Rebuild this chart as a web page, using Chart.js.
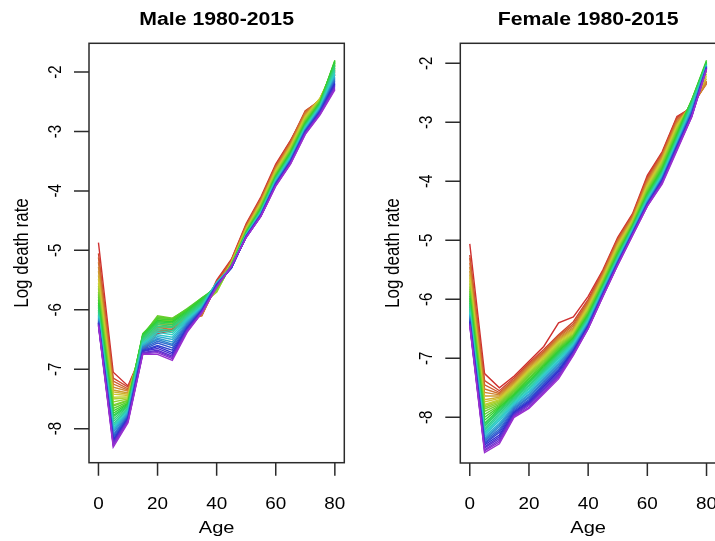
<!DOCTYPE html>
<html>
<head>
<meta charset="utf-8">
<script src="https://cdn.jsdelivr.net/npm/chart.js@4.4.0/dist/chart.umd.min.js"></script>
<style>
  html, body { margin: 0; padding: 0; background: #fff; overflow: hidden; }
  #wrap { position: relative; width: 715px; height: 541px; overflow: hidden; }
  canvas { position: absolute; top: 0; }
  #male { left: 0; }
  #female { left: 360px; }
</style>
</head>
<body>
<div id="wrap">
  <canvas id="male" width="360" height="541"></canvas>
  <canvas id="female" width="360" height="541"></canvas>
</div>
<script>
// ages and years
const ages = [0, 5, 10, 15, 20, 25, 30, 35, 40, 45, 50, 55, 60, 65, 70, 75, 80];
const years = [];
for (let y = 1980; y <= 2015; y++) years.push(y);

const xTicks = [0, 20, 40, 60, 80];
const yTicks = [-2, -3, -4, -5, -6, -7, -8];

// male log death rate, one array per age, values 1980..2015
const m00 = [-4.87,-5.05,-5.12,-5.2,-5.28,-5.35,-5.42,-5.48,-5.55,-5.6,-5.64,-5.7,-5.74,-5.78,-5.83,-5.88,-5.92,-5.96,-6.0,-6.03,-6.06,-6.09,-6.1,-6.12,-6.14,-6.16,-6.18,-6.2,-6.2,-6.22,-6.23,-6.22,-6.24,-6.25,-6.26,-6.27];
const m05 = [-7.05,-7.15,-7.2,-7.25,-7.3,-7.35,-7.38,-7.42,-7.47,-7.5,-7.55,-7.6,-7.62,-7.66,-7.7,-7.74,-7.78,-7.8,-7.84,-7.88,-7.92,-7.95,-7.98,-8.0,-8.03,-8.06,-8.1,-8.12,-8.15,-8.18,-8.2,-8.22,-8.24,-8.26,-8.28,-8.31];
const m10 = [-7.28,-7.3,-7.33,-7.35,-7.37,-7.4,-7.42,-7.44,-7.46,-7.48,-7.5,-7.52,-7.53,-7.55,-7.57,-7.58,-7.6,-7.62,-7.63,-7.65,-7.67,-7.68,-7.7,-7.72,-7.73,-7.75,-7.77,-7.78,-7.8,-7.81,-7.83,-7.84,-7.85,-7.87,-7.88,-7.9];
const m15 = [-6.7,-6.72,-6.68,-6.66,-6.63,-6.6,-6.58,-6.55,-6.52,-6.5,-6.47,-6.45,-6.43,-6.42,-6.4,-6.42,-6.44,-6.45,-6.48,-6.5,-6.52,-6.55,-6.57,-6.58,-6.6,-6.62,-6.63,-6.65,-6.67,-6.68,-6.7,-6.7,-6.72,-6.73,-6.74,-6.75];
const m20 = [-6.4,-6.38,-6.36,-6.33,-6.3,-6.28,-6.25,-6.22,-6.2,-6.18,-6.15,-6.12,-6.1,-6.12,-6.15,-6.18,-6.2,-6.22,-6.25,-6.28,-6.32,-6.35,-6.38,-6.42,-6.45,-6.48,-6.5,-6.53,-6.56,-6.6,-6.62,-6.65,-6.68,-6.7,-6.72,-6.75];
const m25 = [-6.35,-6.33,-6.32,-6.3,-6.28,-6.27,-6.25,-6.23,-6.2,-6.18,-6.16,-6.15,-6.14,-6.15,-6.17,-6.2,-6.22,-6.25,-6.28,-6.3,-6.35,-6.38,-6.42,-6.46,-6.5,-6.54,-6.58,-6.6,-6.64,-6.68,-6.72,-6.75,-6.78,-6.8,-6.82,-6.85];
const m30 = [-6.2,-6.2,-6.18,-6.16,-6.14,-6.12,-6.1,-6.08,-6.06,-6.04,-6.02,-6.0,-5.99,-5.98,-6.0,-6.02,-6.04,-6.06,-6.08,-6.1,-6.12,-6.14,-6.16,-6.18,-6.2,-6.22,-6.24,-6.26,-6.28,-6.3,-6.31,-6.32,-6.34,-6.35,-6.36,-6.38];
const m35 = [-6.05,-6.08,-6.1,-6.1,-6.08,-6.05,-6.02,-5.98,-5.95,-5.92,-5.88,-5.85,-5.82,-5.8,-5.8,-5.82,-5.84,-5.86,-5.88,-5.9,-5.92,-5.94,-5.95,-5.96,-5.97,-5.98,-5.99,-6.0,-6.0,-6.01,-6.02,-6.02,-6.03,-6.04,-6.05,-6.05];
const m40 = [-5.5,-5.52,-5.55,-5.58,-5.6,-5.62,-5.64,-5.66,-5.68,-5.7,-5.7,-5.68,-5.66,-5.64,-5.62,-5.6,-5.58,-5.57,-5.56,-5.55,-5.54,-5.54,-5.55,-5.55,-5.56,-5.56,-5.57,-5.57,-5.58,-5.58,-5.59,-5.6,-5.6,-5.61,-5.62,-5.62];
const m45 = [-5.15,-5.16,-5.17,-5.18,-5.19,-5.2,-5.2,-5.21,-5.22,-5.22,-5.23,-5.23,-5.24,-5.24,-5.25,-5.25,-5.26,-5.26,-5.27,-5.27,-5.28,-5.28,-5.28,-5.29,-5.29,-5.29,-5.3,-5.3,-5.3,-5.29,-5.29,-5.28,-5.28,-5.27,-5.27,-5.26];
const m50 = [-4.55,-4.57,-4.58,-4.6,-4.61,-4.62,-4.63,-4.64,-4.65,-4.66,-4.67,-4.67,-4.68,-4.69,-4.7,-4.7,-4.71,-4.72,-4.72,-4.73,-4.73,-4.74,-4.74,-4.75,-4.75,-4.75,-4.76,-4.76,-4.76,-4.77,-4.77,-4.77,-4.78,-4.78,-4.78,-4.78];
const m55 = [-4.1,-4.12,-4.13,-4.15,-4.16,-4.18,-4.19,-4.2,-4.22,-4.23,-4.24,-4.25,-4.26,-4.28,-4.29,-4.3,-4.31,-4.32,-4.33,-4.34,-4.35,-4.35,-4.36,-4.37,-4.38,-4.38,-4.39,-4.39,-4.4,-4.4,-4.41,-4.41,-4.42,-4.42,-4.42,-4.43];
const m60 = [-3.55,-3.57,-3.59,-3.6,-3.62,-3.63,-3.65,-3.66,-3.68,-3.69,-3.7,-3.72,-3.73,-3.74,-3.75,-3.76,-3.77,-3.78,-3.79,-3.8,-3.81,-3.82,-3.83,-3.84,-3.85,-3.85,-3.86,-3.87,-3.88,-3.88,-3.89,-3.9,-3.9,-3.91,-3.91,-3.92];
const m65 = [-3.15,-3.16,-3.18,-3.2,-3.21,-3.23,-3.24,-3.26,-3.27,-3.29,-3.3,-3.31,-3.33,-3.34,-3.35,-3.36,-3.38,-3.39,-3.4,-3.41,-3.42,-3.43,-3.44,-3.45,-3.46,-3.47,-3.48,-3.49,-3.5,-3.5,-3.51,-3.52,-3.53,-3.53,-3.54,-3.55];
const m70 = [-2.7,-2.65,-2.66,-2.68,-2.7,-2.72,-2.74,-2.75,-2.77,-2.78,-2.8,-2.81,-2.83,-2.84,-2.85,-2.87,-2.88,-2.89,-2.9,-2.91,-2.92,-2.93,-2.94,-2.95,-2.96,-2.97,-2.98,-2.98,-2.99,-3.0,-3.01,-3.02,-3.02,-3.03,-3.04,-3.05];
const m75 = [-2.5,-2.48,-2.47,-2.46,-2.45,-2.45,-2.44,-2.44,-2.45,-2.46,-2.47,-2.48,-2.49,-2.5,-2.51,-2.52,-2.53,-2.54,-2.55,-2.56,-2.57,-2.58,-2.59,-2.6,-2.61,-2.62,-2.63,-2.64,-2.65,-2.66,-2.67,-2.68,-2.69,-2.7,-2.71,-2.72];
const m80 = [-2.05,-2.03,-2.0,-1.98,-1.96,-1.95,-1.93,-1.92,-1.9,-1.88,-1.86,-1.85,-1.83,-1.82,-1.8,-1.82,-1.85,-1.88,-1.9,-1.93,-1.96,-1.99,-2.02,-2.05,-2.08,-2.1,-2.12,-2.14,-2.16,-2.18,-2.2,-2.22,-2.24,-2.26,-2.28,-2.3];

// female log death rate, one array per age, values 1980..2015
const f00 = [-5.06,-5.25,-5.3,-5.38,-5.45,-5.52,-5.58,-5.63,-5.68,-5.73,-5.78,-5.82,-5.86,-5.9,-5.94,-5.98,-6.02,-6.06,-6.1,-6.13,-6.16,-6.19,-6.22,-6.25,-6.27,-6.29,-6.31,-6.33,-6.35,-6.37,-6.38,-6.4,-6.41,-6.42,-6.44,-6.45];
const f05 = [-7.26,-7.38,-7.45,-7.52,-7.58,-7.64,-7.7,-7.74,-7.78,-7.8,-7.83,-7.86,-7.9,-7.95,-8.0,-8.05,-8.1,-8.13,-8.16,-8.2,-8.23,-8.26,-8.28,-8.3,-8.33,-8.36,-8.38,-8.4,-8.43,-8.45,-8.47,-8.5,-8.52,-8.55,-8.57,-8.6];
const f10 = [-7.5,-7.55,-7.58,-7.6,-7.62,-7.64,-7.66,-7.68,-7.7,-7.72,-7.74,-7.76,-7.78,-7.8,-7.82,-7.84,-7.86,-7.88,-7.9,-7.93,-7.96,-8.0,-8.03,-8.06,-8.1,-8.13,-8.16,-8.2,-8.23,-8.26,-8.3,-8.33,-8.36,-8.39,-8.42,-8.45];
const f15 = [-7.3,-7.33,-7.36,-7.38,-7.4,-7.42,-7.44,-7.46,-7.48,-7.5,-7.52,-7.54,-7.56,-7.58,-7.6,-7.62,-7.64,-7.66,-7.68,-7.7,-7.72,-7.74,-7.76,-7.78,-7.8,-7.82,-7.84,-7.86,-7.88,-7.9,-7.92,-7.94,-7.95,-7.97,-7.98,-8.0];
const f20 = [-7.05,-7.08,-7.1,-7.12,-7.14,-7.16,-7.18,-7.2,-7.22,-7.24,-7.26,-7.28,-7.3,-7.33,-7.35,-7.38,-7.4,-7.42,-7.45,-7.47,-7.5,-7.52,-7.55,-7.57,-7.6,-7.62,-7.65,-7.67,-7.7,-7.72,-7.74,-7.76,-7.78,-7.8,-7.83,-7.85];
const f25 = [-6.8,-6.85,-6.88,-6.9,-6.92,-6.94,-6.96,-6.98,-7.0,-7.02,-7.04,-7.06,-7.08,-7.1,-7.12,-7.14,-7.16,-7.18,-7.2,-7.22,-7.24,-7.26,-7.28,-7.3,-7.33,-7.35,-7.38,-7.4,-7.43,-7.45,-7.48,-7.5,-7.53,-7.55,-7.58,-7.6];
const f30 = [-6.4,-6.6,-6.62,-6.64,-6.66,-6.68,-6.7,-6.72,-6.74,-6.76,-6.78,-6.8,-6.82,-6.84,-6.86,-6.88,-6.9,-6.92,-6.94,-6.96,-6.98,-7.0,-7.03,-7.05,-7.08,-7.1,-7.13,-7.15,-7.18,-7.2,-7.22,-7.25,-7.28,-7.3,-7.32,-7.35];
const f35 = [-6.3,-6.38,-6.42,-6.45,-6.48,-6.5,-6.52,-6.54,-6.56,-6.58,-6.6,-6.61,-6.62,-6.63,-6.65,-6.66,-6.68,-6.69,-6.7,-6.72,-6.73,-6.75,-6.76,-6.78,-6.8,-6.81,-6.83,-6.84,-6.86,-6.87,-6.88,-6.9,-6.91,-6.92,-6.94,-6.95];
const f40 = [-5.95,-6.0,-6.03,-6.05,-6.07,-6.09,-6.11,-6.13,-6.15,-6.17,-6.19,-6.2,-6.22,-6.24,-6.25,-6.27,-6.28,-6.3,-6.31,-6.33,-6.34,-6.36,-6.37,-6.38,-6.4,-6.41,-6.42,-6.43,-6.44,-6.45,-6.46,-6.47,-6.48,-6.49,-6.5,-6.5];
const f45 = [-5.5,-5.52,-5.54,-5.56,-5.58,-5.6,-5.62,-5.64,-5.66,-5.67,-5.69,-5.7,-5.72,-5.73,-5.75,-5.76,-5.77,-5.79,-5.8,-5.81,-5.82,-5.83,-5.84,-5.85,-5.86,-5.87,-5.88,-5.89,-5.9,-5.91,-5.92,-5.92,-5.93,-5.94,-5.95,-5.95];
const f50 = [-4.95,-4.97,-4.99,-5.01,-5.03,-5.05,-5.07,-5.09,-5.11,-5.13,-5.15,-5.17,-5.18,-5.2,-5.22,-5.23,-5.25,-5.26,-5.28,-5.29,-5.3,-5.31,-5.32,-5.33,-5.34,-5.35,-5.36,-5.37,-5.37,-5.38,-5.39,-5.4,-5.4,-5.41,-5.42,-5.42];
const f55 = [-4.55,-4.57,-4.58,-4.6,-4.62,-4.63,-4.65,-4.66,-4.68,-4.69,-4.7,-4.72,-4.73,-4.74,-4.75,-4.76,-4.77,-4.78,-4.79,-4.8,-4.81,-4.82,-4.83,-4.84,-4.85,-4.86,-4.86,-4.87,-4.88,-4.88,-4.89,-4.9,-4.9,-4.91,-4.91,-4.92];
const f60 = [-3.9,-3.93,-3.96,-3.98,-4.0,-4.03,-4.05,-4.07,-4.09,-4.11,-4.13,-4.15,-4.17,-4.19,-4.2,-4.22,-4.23,-4.25,-4.26,-4.28,-4.29,-4.3,-4.31,-4.33,-4.34,-4.35,-4.36,-4.37,-4.38,-4.38,-4.39,-4.4,-4.4,-4.41,-4.42,-4.42];
const f65 = [-3.5,-3.52,-3.54,-3.56,-3.58,-3.6,-3.62,-3.64,-3.66,-3.68,-3.7,-3.72,-3.74,-3.76,-3.78,-3.8,-3.82,-3.83,-3.85,-3.86,-3.88,-3.89,-3.9,-3.92,-3.93,-3.94,-3.95,-3.96,-3.97,-3.98,-3.99,-4.0,-4.01,-4.02,-4.03,-4.05];
const f70 = [-2.9,-2.92,-2.95,-2.97,-3.0,-3.02,-3.04,-3.06,-3.08,-3.1,-3.12,-3.14,-3.16,-3.18,-3.2,-3.22,-3.24,-3.26,-3.27,-3.29,-3.3,-3.32,-3.33,-3.35,-3.36,-3.37,-3.38,-3.39,-3.4,-3.41,-3.42,-3.43,-3.44,-3.45,-3.46,-3.48];
const f75 = [-2.75,-2.74,-2.73,-2.72,-2.71,-2.7,-2.69,-2.68,-2.67,-2.66,-2.65,-2.64,-2.63,-2.62,-2.62,-2.63,-2.64,-2.65,-2.67,-2.69,-2.71,-2.73,-2.75,-2.77,-2.79,-2.8,-2.82,-2.83,-2.85,-2.86,-2.87,-2.88,-2.89,-2.9,-2.9,-2.91];
const f80 = [-2.3,-2.32,-2.33,-2.35,-2.34,-2.3,-2.26,-2.22,-2.18,-2.14,-2.1,-2.06,-2.02,-1.98,-1.95,-1.97,-1.99,-2.0,-2.01,-2.02,-2.03,-2.03,-2.04,-2.04,-2.05,-2.05,-2.06,-2.06,-2.07,-2.07,-2.08,-2.08,-2.09,-2.09,-2.1,-2.1];

const maleRows = [m00, m05, m10, m15, m20, m25, m30, m35, m40, m45, m50, m55, m60, m65, m70, m75, m80];
const femaleRows = [f00, f05, f10, f15, f20, f25, f30, f35, f40, f45, f50, f55, f60, f65, f70, f75, f80];

// rainbow like R: hue 0 .. 280, a bit muted like the picture
function yearColor(j) {
  let h = j * 8;
  return "hsl(" + h + ", 62%, 50%)";
}

function makeDatasets(rows) {
  let sets = [];
  for (let j = 0; j < years.length; j++) {
    let pts = [];
    for (let i = 0; i < ages.length; i++) {
      pts.push({ x: ages[i], y: rows[i][j] });
    }
    sets.push({
      label: String(years[j]),
      data: pts,
      borderColor: yearColor(j),
      borderWidth: 1.4,
      pointRadius: 0,
      tension: 0,
      fill: false,
      order: years.length - j   // later years drawn on top
    });
  }
  return sets;
}

const FONT = "'Liberation Sans', Arial, Helvetica, sans-serif";
const SX = 1.18; // text in the picture is a little wider than tall

function stretchText(ctx, txt, x, y, rotate) {
  ctx.save();
  ctx.translate(x, y);
  ctx.scale(SX, 1);
  if (rotate) ctx.rotate(-Math.PI / 2);
  ctx.fillText(txt, 0, 0);
  ctx.restore();
}

// base R style box + axes
const rAxes = {
  id: "rAxes",
  afterDraw(chart, args, opts) {
    const ctx = chart.ctx;
    const a = chart.chartArea;
    const xs = chart.scales.x;
    const ys = chart.scales.y;
    ctx.save();
    ctx.strokeStyle = "#2b2b2b";
    ctx.lineWidth = 1.5;
    ctx.strokeRect(a.left, a.top, a.right - a.left, a.bottom - a.top);

    ctx.fillStyle = "#000";
    ctx.textAlign = "center";
    ctx.textBaseline = "middle";
    ctx.beginPath();
    xTicks.forEach(function(v) {
      let px = xs.getPixelForValue(v);
      ctx.moveTo(px, a.bottom);
      ctx.lineTo(px, a.bottom + 13);
    });
    yTicks.forEach(function(v) {
      let py = ys.getPixelForValue(v);
      ctx.moveTo(a.left, py);
      ctx.lineTo(a.left - 15, py);
    });
    ctx.stroke();

    ctx.font = "16px " + FONT;
    xTicks.forEach(function(v) {
      stretchText(ctx, String(v), xs.getPixelForValue(v), a.bottom + 42, false);
    });
    ctx.font = "15px " + FONT;
    yTicks.forEach(function(v) {
      stretchText(ctx, String(v), a.left - 33, ys.getPixelForValue(v), true);
    });

    let cx = (a.left + a.right) / 2;
    ctx.font = "17px " + FONT;
    stretchText(ctx, "Age", cx, 528, false);
    stretchText(ctx, "Log death rate", a.left - 67, (a.top + a.bottom) / 2, true);

    ctx.font = "bold 18px " + FONT;
    stretchText(ctx, opts.title, cx, 20, false);
    ctx.restore();
  }
};

function makeChart(id, rows, title, pad, yMin, yMax) {
  return new Chart(document.getElementById(id), {
    type: "line",
    data: { datasets: makeDatasets(rows) },
    options: {
      responsive: false,
      animation: false,
      devicePixelRatio: 1,
      layout: { padding: pad },
      plugins: {
        legend: { display: false },
        tooltip: { enabled: false },
        rAxes: { title: title }
      },
      scales: {
        x: { type: "linear", min: -3.2, max: 83.2, display: false },
        y: { type: "linear", min: yMin, max: yMax, display: false }
      }
    },
    plugins: [rAxes]
  });
}

makeChart("male", maleRows, "Male 1980-2015",
  { left: 89, right: 15.7, top: 43.3, bottom: 78.3 }, -8.572, -1.517);
makeChart("female", femaleRows, "Female 1980-2015",
  { left: 100.3, right: 4, top: 43.3, bottom: 78 }, -8.775, -1.661);
</script>
</body>
</html>
